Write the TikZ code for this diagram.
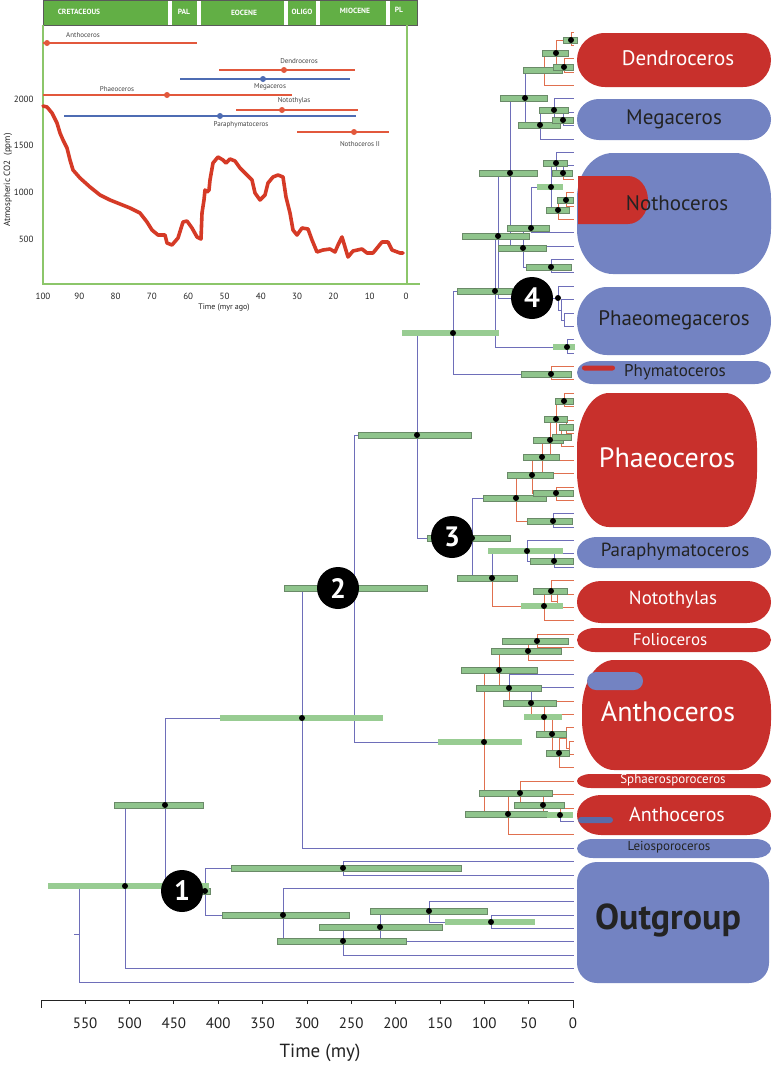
\documentclass[tikz,border=0pt]{standalone}
\usepackage{fontspec}
\setmainfont{PT Sans}
\definecolor{tblue}{HTML}{6E6EB9}
\definecolor{tred}{HTML}{E0704F}
\definecolor{gfill}{HTML}{8FC48C}
\definecolor{gbord}{HTML}{6A8A68}
\definecolor{glight}{HTML}{98CC92}
\definecolor{boxred}{HTML}{C8302C}
\definecolor{boxblue}{HTML}{7383C2}
\definecolor{textdark}{HTML}{232323}
\definecolor{hgreen}{HTML}{62AF45}
\definecolor{agreen}{HTML}{8CC66A}
\definecolor{co2}{HTML}{D53A26}
\definecolor{rred}{HTML}{E2583C}
\definecolor{rblue}{HTML}{4E6CB3}
\definecolor{innerblue}{HTML}{5A6BA8}
\newcommand\fs[1]{\fontsize{#1}{#1}\selectfont}
\newcommand\rbox[8]{\fill[#8] ({#2+#6},#3) -- ({#4-#6},#3) arc[start angle=90,end angle=0,x radius=#6pt,y radius=#7pt] -- (#4,{#5-#7}) arc[start angle=0,end angle=-90,x radius=#6pt,y radius=#7pt] -- ({#2+#6},#5) arc[start angle=-90,end angle=-180,x radius=#6pt,y radius=#7pt] -- (#2,{#3+#7}) arc[start angle=180,end angle=90,x radius=#6pt,y radius=#7pt] -- cycle; \coordinate (#1) at ({(#2+#4)/2},{(#3+#5)/2});}
\begin{document}
\begin{tikzpicture}[x=1pt,y=-1pt,
  bl/.style={draw=tblue,line width=0.85pt},
  rd/.style={draw=tred,line width=0.85pt},
  gbar/.style={fill=gfill,draw=gbord,line width=0.5pt},
  lbar/.style={fill=glight},
  numc/.style={circle,fill=black,minimum size=42pt,inner sep=0pt,text=white,font=\bfseries\fs{28}},
  wlab/.style={text=white},
  dlab/.style={text=textdark},
  rlab/.style={text=textdark!85,font=\fs{7}},
  hlab/.style={text=white,font=\bfseries\fs{7.5}},
  ilab/.style={text=textdark,font=\fs{9}},
  mlab/.style={text=textdark,font=\fs{15}}
]
\useasboundingbox (0,0) rectangle (774,1068);
\fill[white] (0,0) rectangle (774,1068);

% ================= INSET =================
\fill[hgreen,draw=gray!70!black,line width=0.4pt] (43,0) rectangle (417,25);
\foreach \x in {170,199,286,318,388} \fill[white] ({\x-1.6},0.5) rectangle ({\x+1.6},24.5);
\node[hlab] (hcr) at (79,12) {CRETACEOUS};
\node[hlab] (hpa) at (184,12) {PAL};
\node[hlab] (heo) at (244,13) {EOCENE};
\node[hlab] (hol) at (302,12) {OLIGO};
\node[hlab] (hmi) at (355,11) {MIOCENE};
\node[hlab] (hpl) at (399,10) {PL};
\draw[agreen,line width=1.6pt] (43,25) -- (43,284) -- (420,284);
\draw[agreen,line width=1.6pt] (407,25) -- (407,284);
\foreach \v in {100,90,...,0} \node[ilab] at ({406-3.63*\v},296) {\v};
\foreach \v in {500,1000,1500,2000} \node[ilab,anchor=east] at (37,{285.7-0.0934*\v}) {\v};
\node[ilab,rotate=90] (ylab) at (8,180) {Atmospheric CO2\ \ (ppm)};
\node[ilab,font=\fs{8}] (xlab) at (224,308) {Time (myr ago)};
% ranges
\draw[rred,line width=1.3pt] (43,43) -- (197,43); \fill[rred] (47,43) circle[radius=3pt];
\node[rlab] (ran) at (83,35) {Anthoceros};
\draw[rred,line width=1.3pt] (219,70) -- (355,70); \fill[rred] (284,70) circle[radius=3pt];
\node[rlab] (rde) at (299,61) {Dendroceros};
\draw[rblue,line width=1.3pt] (180,79) -- (350,79); \fill[rblue] (263,79) circle[radius=3pt];
\node[rlab] (rme) at (270,87) {Megaceros};
\draw[rred,line width=1.3pt] (43,95) -- (292,95); \fill[rred] (167,95) circle[radius=3pt];
\node[rlab] (rph) at (117,89) {Phaeoceros};
\draw[rred,line width=1.3pt] (236,110) -- (358,110); \fill[rred] (282,110) circle[radius=3pt];
\node[rlab] (rno) at (294,101) {Notothylas};
\draw[rblue,line width=1.3pt] (64,116) -- (356,116); \fill[rblue] (220,116) circle[radius=3pt];
\node[rlab] (rpa) at (241,125) {Paraphymatoceros};
\draw[rred,line width=1.3pt] (297,132) -- (389,132); \fill[rred] (354,132) circle[radius=3pt];
\node[rlab] (rn2) at (360,144) {Nothoceros II};
% CO2 curve
\draw[co2,line width=3.6pt,line join=round,line cap=round] plot coordinates {
(43,106) (47,107) (52,113) (57,123) (60,133) (63,140) (67,148) (70,160) (73,170) (80,178) (90,187) (100,195) (110,200) (120,204) (130,208) (140,213) (147,222) (152,230) (158,235) (165,235) (167,243) (172,245) (178,238) (183,222) (187,221) (192,228) (197,237) (201,239) (202,213) (204,200) (205,190) (207,192) (209,190) (210,180) (213,163) (218,157) (223,160) (226,163) (230,159) (235,161) (240,168) (247,175) (252,180) (255,193) (260,200) (265,195) (268,183) (273,177) (278,175) (283,177) (286,197) (290,213) (293,230) (297,235) (302,228) (308,229) (312,240) (317,252) (323,250) (330,249) (335,252) (338,245) (342,237) (345,247) (348,257) (353,251) (362,249) (367,253) (373,253) (382,242) (388,242) (392,250) (400,253) (403,253)};

% ================= CLADE BOXES =================
\rbox{bDen}{577}{33}{771}{87}{28}{27}{boxred}
\rbox{bMeg}{577}{99}{771}{140}{22}{20.5}{boxblue}
\rbox{bNot}{577}{153}{771}{274}{36}{45}{boxblue}
\fill[boxred] (578,176) -- (628,176) arc[start angle=90,end angle=-90,x radius=20pt,y radius=24pt] -- (578,224) -- cycle;
\rbox{bPhm}{577}{287}{771}{355}{30}{34}{boxblue}
\rbox{bPhy}{577}{361}{771}{384}{16}{11.5}{boxblue}
\fill[boxred,rounded corners=2.5pt] (582,365.5) rectangle (615,370.5);
\rbox{bPhc}{577}{393}{757}{527}{32}{55}{boxred}
\rbox{bPar}{577}{537}{771}{568}{20}{15.5}{boxblue}
\rbox{bNtt}{577}{581}{771}{623}{24}{21}{boxred}
\rbox{bFol}{577}{628}{771}{652}{18}{12}{boxred}
\rbox{bAn1}{582}{660}{771}{770}{32}{50}{boxred}
\fill[boxblue,rounded corners=9pt] (587,672) rectangle (643,690);
\rbox{bSph}{577}{774}{771}{788}{14}{7}{boxred}
\rbox{bAn2}{577}{795}{771}{835}{24}{20}{boxred}
\fill[innerblue,rounded corners=3pt] (578,817) rectangle (613,823);
\rbox{bLei}{577}{839}{771}{858}{16}{9.5}{boxblue}
\rbox{bOut}{577}{862}{769}{983}{20}{20}{boxblue}

\node[wlab,font=\fs{21}] (lDen) at (678,58) {Dendroceros};
\node[dlab,font=\fs{21}] (lMeg) at (674,119) {Megaceros};
\node[dlab,font=\fs{21}] (lNot) at (677,203) {Nothoceros};
\node[dlab,font=\fs{21}] (lPhm) at (674,320) {Phaeomegaceros};
\node[dlab,font=\fs{17}] (lPhy) at (675,372) {Phymatoceros};
\node[wlab,font=\fs{28}] (lPhc) at (667,458) {Phaeoceros};
\node[dlab,font=\fs{19}] (lPar) at (675,552) {Paraphymatoceros};
\node[wlab,font=\fs{19}] (lNtt) at (673,600) {Notothylas};
\node[wlab,font=\fs{17}] (lFol) at (670,640) {Folioceros};
\node[wlab,font=\fs{28}] (lAn1) at (668,712) {Anthoceros};
\node[wlab,font=\fs{13}] (lSph) at (673,780) {Sphaerosporoceros};
\node[wlab,font=\fs{20}] (lAn2) at (677,814) {Anthoceros};
\node[dlab,font=\fs{13}] (lLei) at (669,847) {Leiosporoceros};
\node[dlab,font=\bfseries\fs{36}] (lOut) at (668,920) {Outgroup};

% ================= TREE =================
\foreach \i in {0,...,71}{\coordinate (t\i) at (574,{32+13.38*\i});}
\foreach \n/\x/\y in {R/79/934, A/125/886, B/165/805, C/302/718, D1/205/891, E/343/868, F/283/915, G/343/941, H/380/927, I/429/911, J/491/922, K/354/588, P/417/435, N/484/742, Q/453/333, S/472/538, T/495/291, U/551/374, W/498/236, X/567/347, Y/510/173, Z4/558/298, Z4b/561/310, Z4c/564/320, AA/525/98, AB/523/248, DA/544/70, D53/556/53, D40/571/40, D67/564/67, MG/540/125, M110/554/110, M120/563/120, AC/531/228, N17/551/267, NC/551/187, NA/556/163, NB/563/173, ND/558/210, ND2/566/200, PH/516/498, PN/492/578, P475/532/475, P521/553/521, P457/542/457, P493/556/493, P440/550/440, P419/556/419, P401/564/401, PB/561/437, PC/566/427, P551/527/551, P561/554/561, P606/544/606, P591/551/591, P601/557/601, N670/499/670, N651/528/651, N641/537/641, N688/509/688, N703/531/703, N717/544/717, N734/552/734, N753/559/753, N738/566/738, N748/569/748, N814/508/814, N793/520/793, N805/543/805, N815/560/815}
  {\coordinate (\n) at (\x,\y);}
\coordinate (Rs) at (74,934);
\draw[bl] (Rs) -- (R);
\foreach \p/\c in {R/A, R/t71, A/B, A/t70, B/C, B/D1, D1/E, D1/F, E/t62, E/t63, F/t64, F/G, G/H, G/t69, H/I, H/t68, I/t65, I/J, J/t66, J/t67, C/K, C/t61, K/P, K/N, P/Q, P/S, Q/T, Q/U, T/W, T/X, X/t23, X/t24, W/Y, W/Z4, Z4/t19, Z4/Z4b, Z4b/t20, Z4b/Z4c, Z4c/t21, Z4c/t22, Y/AA, Y/AB, AA/DA, AA/MG, MG/M110, MG/t8, M110/t5, M110/M120, M120/t6, M120/t7, AB/AC, AB/t16, AB/N17, N17/t17, N17/t18, AC/NC, AC/t15, NC/NA, NC/ND, NA/t9, NA/NB, NB/t10, S/PH, S/PN, P521/t36, P521/t37, PN/P551, P551/t38, P551/P561, P561/t39, P561/t40, N688/t48, N703/t49, N815/t59}
  {\draw[bl] (\p) |- (\c);}
\foreach \p/\c in {DA/D53, DA/t4, D53/D40, D53/D67, D40/t0, D40/t1, D67/t2, D67/t3, NB/t11, ND/ND2, ND/t14, ND2/t12, ND2/t13, U/t25, U/t26, PH/P475, PH/P521, P475/P457, P475/P493, P493/t34, P493/t35, P457/P440, P457/t33, P440/P419, P440/t32, P419/P401, P419/PB, P401/t27, P401/t28, PB/PC, PB/t31, PC/t29, PC/t30, PN/P606, P606/P591, P606/t44, P591/t41, P591/P601, P601/t42, P601/t43, N/N670, N/N814, N670/N651, N670/N688, N651/N641, N651/t47, N641/t45, N641/t46, N688/N703, N703/N717, N717/t50, N717/N734, N734/t51, N734/N753, N753/N738, N753/t55, N738/t52, N738/N748, N748/t53, N748/t54, N814/N793, N814/t60, N793/t56, N793/N805, N805/t57, N805/N815, N815/t58}
  {\draw[rd] (\p) |- (\c);}
% bars (bordered)
\foreach \a/\b/\y in {114/203/805, 183/210/891, 231/461/868, 222/349/915, 277/406/941, 319/442/927, 370/487/911, 284/427/588, 358/471/435, 427/510/538, 457/512/291, 521/571/374, 462/529/236, 479/537/173, 500/547/98, 498/546/248, 523/562/70, 542/568/53, 563/577/40, 553/573/67, 518/560/125, 539/568/110, 552/573/120, 507/549/228, 526/571/267, 543/567/163, 552/572/173, 546/569/210, 557/573/200, 483/546/498, 457/517/578, 507/553/475, 527/572/521, 523/559/457, 533/573/493, 533/563/440, 544/567/419, 555/573/401, 552/571/437, 559/573/427, 530/573/561, 533/567/591, 461/537/670, 491/561/651, 502/568/641, 476/541/688, 503/556/703, 536/566/734, 546/569/753, 465/547/814, 479/552/793, 514/564/805}
  {\filldraw[gbar] (\a,{\y-3.2}) rectangle (\b,{\y+3.2});}
% bars (light)
\foreach \a/\b/\y in {48/209/886, 220/383/718, 445/535/922, 438/522/742, 402/499/333, 553/575/347, 537/563/187, 488/563/551, 521/563/606, 524/562/717, 547/573/815}
  {\fill[lbar] (\a,{\y-3.2}) rectangle (\b,{\y+3.2});}
% dots
\foreach \n in {A,B,C,D1,E,F,G,H,I,J,K,P,N,Q,S,T,U,W,X,Y,Z4,AA,AB,D53,D40,D67,MG,M110,M120,AC,N17,NC,NA,NB,ND,ND2,PH,PN,P475,P521,P457,P493,P440,P419,P401,P551,P561,P606,P591,N670,N651,N641,N688,N703,N717,N734,N753,N814,N793,N805,N815}
  {\fill[black] (\n) circle[radius=3pt];}
% numbered circles
\node[numc] (c1) at (182,891) {1};
\node[numc] (c2) at (338,588) {2};
\node[numc] (c3) at (452,537) {3};
\node[numc] (c4) at (532,298) {4};

% ================= TIME AXIS =================
\coordinate (ax0) at (41,1000);
\coordinate (ax1) at (573,1000);
\draw[textdark,line width=0.8pt] (ax0) -- (ax1);
\draw[textdark,line width=0.8pt] (ax0) -- ++(0,8);
\draw[textdark,line width=0.8pt] (ax1) -- ++(0,8);
\foreach \v in {550,500,...,50} \draw[textdark,line width=0.8pt] ({573-0.887*\v},1000) -- ++(0,4);
\foreach \v in {550,500,...,0} \node[mlab] at ({573-0.887*\v},1023) {\v};
\node[text=textdark,font=\fs{19}] (tlab) at (320,1053) {Time (my)};
\end{tikzpicture}
\end{document}
